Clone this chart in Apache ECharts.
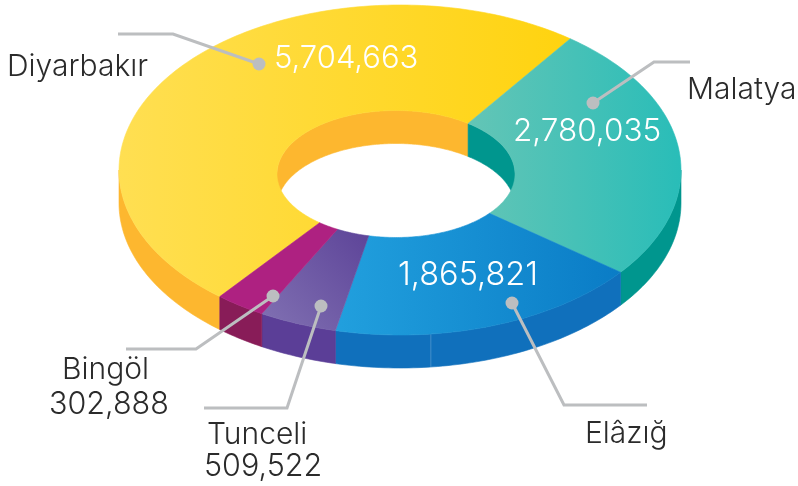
<!DOCTYPE html>
<html>
<head>
<meta charset="utf-8">
<style>html,body{margin:0;padding:0;background:#fff}#c{width:798px;height:486px}</style>
<script src="https://cdn.jsdelivr.net/npm/echarts@6/dist/echarts.min.js"></script>
</head>
<body>
<div id="c"></div>
<script>
// ---- data ----
const categories = ["Diyarbakır", "Malatya", "Elâzığ", "Tunceli", "Bingöl"];
const seriesValues = [5704663, 2780035, 1865821, 509522, 302888];

// ---- presentation ----
const FONT = 'Inter, "Liberation Sans", Arial, sans-serif';
const OUTER = {cx: 400, cy: 170, rx: 281, ry: 165};
const INNER = {cx: 396, cy: 174, rx: 119, ry: 63.5};
const DEPTH = 33;
const START = 217.4;             // clockwise from 12 o'clock
const WARP = 4.9, WARP_PHASE = 75; // perspective distortion of the angles
const NEAR = {amp: 1.7, mid: 212, width: 12}; // foreshortening near the viewer's left
const WALL_SEAM = 173.7;
const grad = (x, y, x2, y2, a, b) => ({type: 'linear', x, y, x2, y2, global: true,
  colorStops: [{offset: 0, color: a}, {offset: 1, color: b}]});
const topFill = [
  grad(119, 0, 570, 0, '#FFDF52', '#FFD30F'),
  grad(470, 0, 681, 0, '#63C5B6', '#29BDB8'),
  grad(340, 0, 620, 0, '#219FDD', '#0A7CC6'),
  grad(262, 325, 365, 232, '#8070B2', '#5E4599'),
  '#AE2181'
];
const wallFill = ['#FDB72F', '#00968E', '#1070BC', '#5B3E97', '#881C58'];
const leaders = [
  [[118, 34], [173, 34], [259, 64]],
  [[690, 62], [654, 62], [593, 103]],
  [[647, 405], [564, 405], [512, 303]],
  [[204, 408], [287, 408], [321, 306]],
  [[126, 349], [196, 349], [273, 296]]
];
const nameBoxes = [
  {x: 7, y: 67, align: 'left'},
  {x: 687, y: 90, align: 'left'},
  {x: 585, y: 434, align: 'left'},
  {x: 207, y: 435, align: 'left'},
  {x: 62, y: 370, align: 'left'}
];
const valueBoxes = [
  {x: 274, y: 59, fill: '#fff', size: 31},
  {x: 513, y: 132, fill: '#fff', size: 31.5},
  {x: 398, y: 275, fill: '#fff', size: 32.5},
  {x: 204, y: 467, fill: '#2b2b2b', size: 30.5},
  {x: 49, y: 405, fill: '#2b2b2b', size: 30.5}
];

// ---- geometry from the values ----
const total = seriesValues.reduce((a, b) => a + b, 0);
const rad = d => d * Math.PI / 180;
const warp = t => t - WARP * Math.cos(rad(t - WARP_PHASE))
  - NEAR.amp * Math.exp(-Math.pow((t % 360 - NEAR.mid) / NEAR.width, 2));
const ptAt = (e, t, dy) => [e.cx + e.rx * Math.sin(rad(t)), e.cy - e.ry * Math.cos(rad(t)) + (dy || 0)];
const arc = (e, a, b, dy) => {
  const out = [], n = Math.max(2, Math.ceil(Math.abs(b - a)));
  for (let i = 0; i <= n; i++) out.push(ptAt(e, a + (b - a) * i / n, dy));
  return out;
};
function sliceRange(i) {
  let acc = 0;
  for (let k = 0; k < i; k++) acc += seriesValues[k];
  const a = START + acc / total * 360, b = a + seriesValues[i] / total * 360;
  return [warp(a), warp(b)];
}
const poly = (points, fill) => ({type: 'polygon', shape: {points},
  style: {fill, stroke: fill, lineWidth: 0.6}, silent: true});

function clip(a, b, lo, hi) {
  const res = [];
  for (const s of [-720, -360, 0, 360]) {
    const x = Math.max(a + s, lo), y = Math.min(b + s, hi);
    if (y > x) res.push([x, y]);
  }
  return res;
}
function renderWalls(params, api) {
  const i = api.value(0), [a, b] = sliceRange(i), children = [];
  clip(a, b, 90, 270).forEach(([x, y]) => {
    children.push(poly(arc(OUTER, x, y).concat(arc(OUTER, y, x, DEPTH)), wallFill[i]));
  });
  clip(a, b, -90, 90).forEach(([x, y]) => {
    children.push(poly(arc(INNER, x, y).concat(arc(INNER, y, x, DEPTH)), wallFill[i]));
  });
  if (clip(a, b, WALL_SEAM - 0.01, WALL_SEAM + 0.01).length) {
    const p = ptAt(OUTER, WALL_SEAM);
    children.push({type: 'line', shape: {x1: p[0], y1: p[1], x2: p[0], y2: p[1] + DEPTH},
      style: {stroke: 'rgba(255,255,255,0.22)', lineWidth: 1}, silent: true});
  }
  return {type: 'group', children};
}
function renderTops(params, api) {
  const i = api.value(0), [a, b] = sliceRange(i);
  return poly(arc(OUTER, a, b).concat(arc(INNER, b, a)), topFill[i]);
}
function renderNotes(params, api) {
  const i = api.value(0), L = leaders[i], n = nameBoxes[i], v = valueBoxes[i];
  const last = L[L.length - 1];
  return {type: 'group', children: [
    {type: 'polyline', shape: {points: L}, style: {fill: 'none', stroke: '#BCBEC0', lineWidth: 3}, silent: true},
    {type: 'circle', shape: {cx: last[0], cy: last[1], r: 6.5}, style: {fill: '#BCBEC0'}, silent: true},
    {type: 'text', x: n.x, y: n.y, style: {text: categories[i], font: '300 30px ' + FONT, fill: '#2b2b2b', align: n.align, verticalAlign: 'middle'}, silent: true},
    {type: 'text', x: v.x, y: v.y, style: {text: seriesValues[i].toLocaleString('en-US'), font: '300 ' + v.size + 'px ' + FONT, fill: v.fill, align: 'left', verticalAlign: 'middle'}, silent: true}
  ]};
}
const rows = seriesValues.map((v, i) => [i, v]);
const chart = echarts.init(document.getElementById('c'), null, {renderer: 'canvas'});
chart.setOption({
  animation: false,
  backgroundColor: '#fff',
  series: [
    {type: 'custom', coordinateSystem: 'none', z: 1, data: rows, renderItem: renderWalls},
    {type: 'custom', coordinateSystem: 'none', z: 2, data: rows, renderItem: renderTops},
    {type: 'custom', coordinateSystem: 'none', z: 3, data: rows, renderItem: renderNotes}
  ]
});
</script>
</body>
</html>
